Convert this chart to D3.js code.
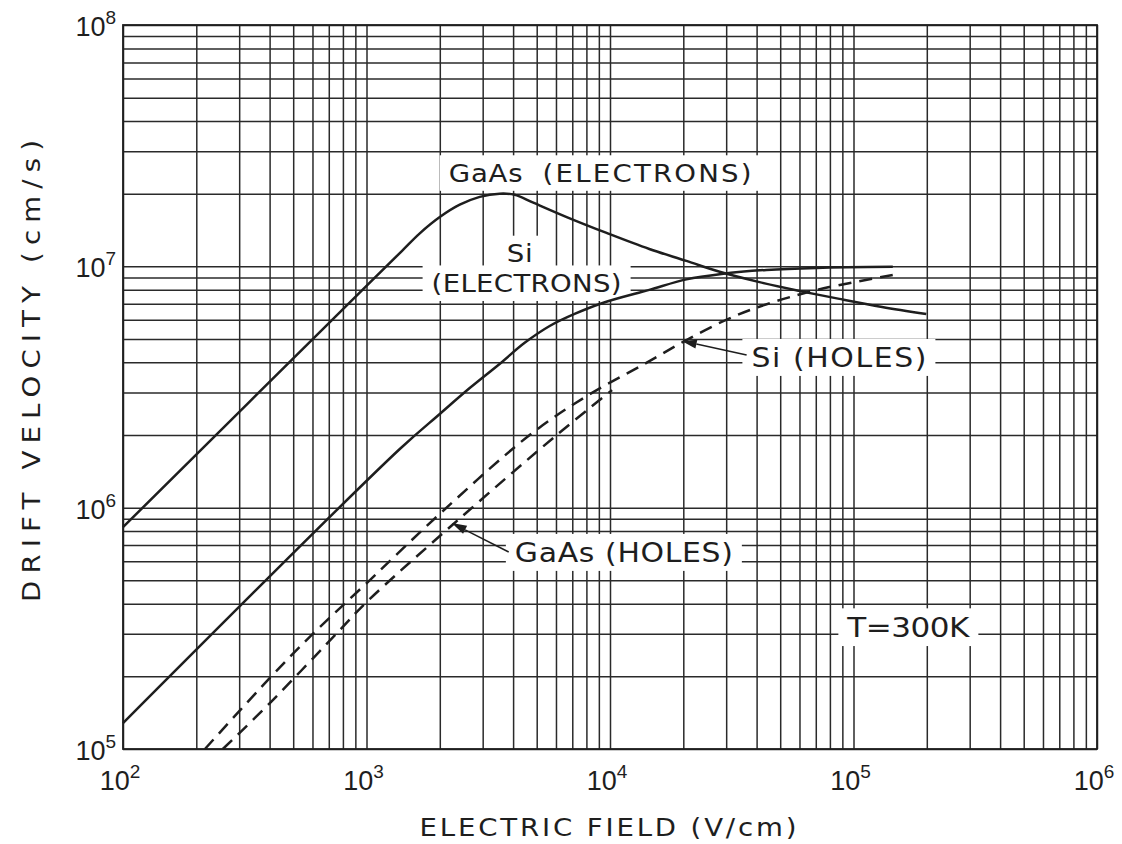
<!DOCTYPE html>
<html>
<head>
<meta charset="utf-8">
<script src="https://cdn.jsdelivr.net/npm/d3@7"></script>
<style>
  html, body { margin: 0; padding: 0; background: #fff; }
  svg { display: block; }
  text { font-family: "DejaVu Sans", "Liberation Sans", sans-serif; fill: #1e1e1e; }
  text.num { font-family: "Liberation Sans", Arial, sans-serif; }
</style>
</head>
<body>
<svg id="chart" width="1122" height="844"></svg>
<script>
// Decade labels on each axis (powers of ten)
const fieldExponents = [2, 3, 4, 5, 6];
const velocityExponents = [5, 6, 7, 8];

// GaAs electrons: field (V/cm) and drift velocity (cm/s)
const gaasElectronField = [100, 1000, 1400, 1655, 2000, 2415, 2917, 3520, 4060, 4813, 6640, 9680, 1.45e4, 2.06e4, 2.82e4, 4.11e4, 6.0e4, 8.75e4, 1.31e5, 1.99e5];
const gaasElectronVelocity = [8.3e5, 8.3e6, 1.16e7, 1.37e7, 1.6e7, 1.8e7, 1.94e7, 2.0e7, 1.98e7, 1.84e7, 1.6e7, 1.375e7, 1.18e7, 1.053e7, 9.49e6, 8.6e6, 7.91e6, 7.33e6, 6.79e6, 6.35e6];

// Si electrons
const siElectronField = [100, 1370, 2000, 2654, 3520, 4462, 5652, 7155, 9325, 1.45e4, 2.06e4, 2.87e4, 4.39e4, 7.05e4, 1.45e5];
const siElectronVelocity = [1.28e5, 1.75e6, 2.445e6, 3.13e6, 3.94e6, 4.82e6, 5.66e6, 6.35e6, 7.05e6, 7.99e6, 8.83e6, 9.3e6, 9.66e6, 9.85e6, 9.95e6];

// Si holes
const siHoleField = [217, 401, 596, 1030, 2040, 4680, 8020, 1.41e4, 2.06e4, 3.0e4, 4.1e4, 7.05e4, 1.45e5];
const siHoleVelocity = [1e5, 1.97e5, 2.97e5, 5.0e5, 9.6e5, 2.0e6, 2.9e6, 3.98e6, 4.95e6, 6.0e6, 6.8e6, 7.98e6, 9.2e6];

// GaAs holes
const gaasHoleField = [257, 401, 777, 1000, 2300, 6040, 1.02e4];
const gaasHoleVelocity = [1e5, 1.55e5, 3.11e5, 4.06e5, 8.64e5, 2.0e6, 3.07e6];

// Curve labels, anchored in data space (field, velocity at text baseline)
const labelText = ["GaAs", "(ELECTRONS)", "Si", "(ELECTRONS)", "Si (HOLES)", "GaAs (HOLES)", "T=300K"];
const labelField = [3087, 1.42e4, 4256, 4545, 8.71e4, 1.14e4, 1.68e5];
const labelVelocity = [2.24e7, 2.24e7, 1.04e7, 7.83e6, 3.83e6, 5.96e5, 2.91e5];

// Leader arrows: from label (tail) to curve (tip)
const arrowTailField = [3.64e4, 3837];
const arrowTailVelocity = [4.29e6, 6.55e5];
const arrowTipField = [1.97e4, 2239];
const arrowTipVelocity = [4.91e6, 8.64e5];

// ---- layout ----
const frame = { left: 123, right: 1097, top: 25, bottom: 749 };
const labelWidths = [74, 209, 26, 190, 175, 218, 122];
const labelSizes = [24, 24, 24, 24, 26, 26, 27];
const letterStretch = 1.15;   // wide, square lettering

const svg = d3.select("#chart");
const ink = "#1e1e1e";

const x = d3.scaleLog().domain([1e2, 1e6]).range([frame.left, frame.right]);
const y = d3.scaleLog().domain([1e5, 1e8]).range([frame.bottom, frame.top]);

// Spaced lettering: text centred at cx, filling `length` px, glyphs widened
function lettering(parent, str, cx, base, size, length) {
  return parent.append("g")
    .attr("transform", `translate(${cx},${base}) scale(${letterStretch},1)`)
    .append("text")
    .attr("x", 0).attr("y", 0)
    .attr("text-anchor", "middle")
    .attr("font-size", size)
    .attr("textLength", length / letterStretch)
    .attr("lengthAdjust", "spacing")
    .text(str);
}

// Log-paper grid: lines at 1..9 in every decade
const grid = svg.append("g");
grid.append("g")
  .attr("transform", `translate(0,${frame.bottom})`)
  .call(d3.axisBottom(x).tickValues(x.ticks()).tickSize(-(frame.bottom - frame.top)).tickFormat(""))
  .call(g => g.select(".domain").remove());
grid.append("g")
  .attr("transform", `translate(${frame.left},0)`)
  .call(d3.axisLeft(y).tickValues(y.ticks()).tickSize(-(frame.right - frame.left)).tickFormat(""))
  .call(g => g.select(".domain").remove());
grid.selectAll(".tick line").attr("stroke", "#2a2a2a").attr("stroke-width", 1.5);

svg.append("rect")
  .attr("x", frame.left).attr("y", frame.top)
  .attr("width", frame.right - frame.left).attr("height", frame.bottom - frame.top)
  .attr("fill", "none").attr("stroke", ink).attr("stroke-width", 1.8);

// White plates behind the labels interrupt the grid
const labels = labelText.map((t, i) => ({
  text: t, cx: x(labelField[i]), base: y(labelVelocity[i]),
  w: labelWidths[i], size: labelSizes[i]
}));
svg.append("g").selectAll("rect").data(labels).join("rect")
  .attr("x", d => d.cx - d.w / 2 - 9)
  .attr("y", d => d.base - d.size * 0.73 - 9)
  .attr("width", d => d.w + 18)
  .attr("height", d => d.size * 0.73 + 18)
  .attr("fill", "#fff");

// Curves
const line = d3.line().x(d => x(d[0])).y(d => y(d[1])).curve(d3.curveCatmullRom.alpha(0.5));
const zip = (a, b) => a.map((v, i) => [v, b[i]]);
const series = [
  { pts: zip(gaasElectronField, gaasElectronVelocity), dash: null },
  { pts: zip(siElectronField, siElectronVelocity), dash: null },
  { pts: zip(siHoleField, siHoleVelocity), dash: "13,8" },
  { pts: zip(gaasHoleField, gaasHoleVelocity), dash: "13,8" }
];
svg.append("g").selectAll("path").data(series).join("path")
  .attr("d", d => line(d.pts))
  .attr("fill", "none")
  .attr("stroke", ink)
  .attr("stroke-width", 2.5)
  .attr("stroke-linecap", "butt")
  .attr("stroke-dasharray", d => d.dash);

// Label text
const lg = svg.append("g");
labels.forEach(d => lettering(lg, d.text, d.cx, d.base, d.size, d.w));

// Leader arrows
const arrows = arrowTailField.map((f, i) => ({
  x0: x(f), y0: y(arrowTailVelocity[i]),
  x1: x(arrowTipField[i]), y1: y(arrowTipVelocity[i])
}));
const ag = svg.append("g");
arrows.forEach(a => {
  const ang = Math.atan2(a.y1 - a.y0, a.x1 - a.x0);
  const len = 15, half = 4.5;
  const bx = a.x1 - len * Math.cos(ang), by = a.y1 - len * Math.sin(ang);
  ag.append("line")
    .attr("x1", a.x0).attr("y1", a.y0).attr("x2", bx).attr("y2", by)
    .attr("stroke", ink).attr("stroke-width", 1.5);
  ag.append("path")
    .attr("d", `M${a.x1},${a.y1}L${bx + half * Math.sin(ang)},${by - half * Math.cos(ang)}L${bx - half * Math.sin(ang)},${by + half * Math.cos(ang)}Z`)
    .attr("fill", ink);
});

// Decade tick labels (10 with superscript exponent)
const xl = svg.append("g");
fieldExponents.forEach(e => {
  const t = xl.append("text").attr("class", "num")
    .attr("x", x(Math.pow(10, e)) - 3).attr("y", 790)
    .attr("text-anchor", "middle").attr("font-size", 27);
  t.append("tspan").text("10");
  t.append("tspan").attr("font-size", 19).attr("dy", -12).text(e);
});
const yl = svg.append("g");
velocityExponents.forEach(e => {
  const t = yl.append("text").attr("class", "num")
    .attr("x", 116).attr("y", y(Math.pow(10, e)) + 11)
    .attr("text-anchor", "end").attr("font-size", 27);
  t.append("tspan").text("10");
  t.append("tspan").attr("font-size", 19).attr("dy", -12).text(e);
});

// Axis titles
lettering(svg, "ELECTRIC FIELD (V/cm)", 608, 836, 24, 377);
const yTitle = svg.append("g").attr("transform", "translate(40,371) rotate(-90)");
lettering(yTitle, "DRIFT VELOCITY (cm/s)", 0, 0, 24, 462);
</script>
</body>
</html>
